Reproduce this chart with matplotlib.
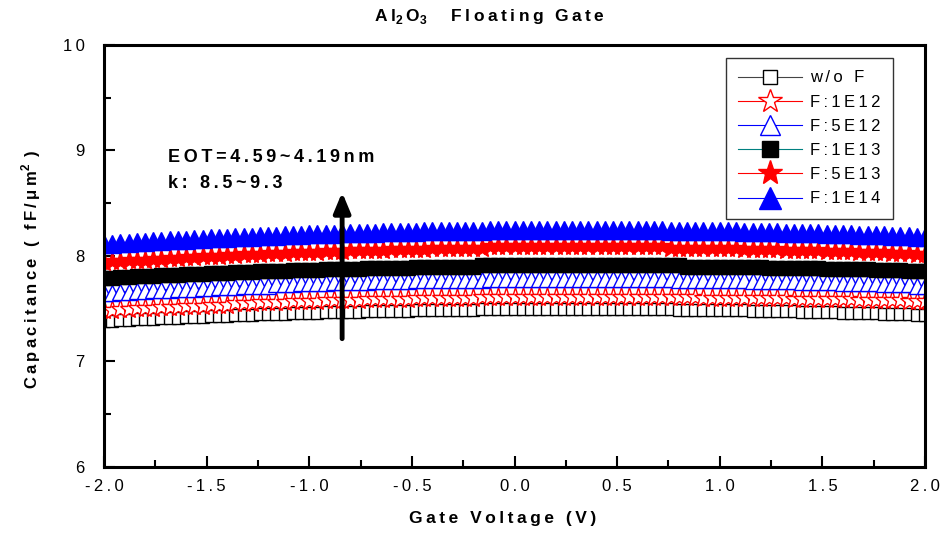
"""C-V curves of the Al2O3 floating gate for several F implant doses."""

import matplotlib

matplotlib.use("Agg")
import matplotlib.pyplot as plt
import numpy as np

plt.rcParams["font.family"] = ["Liberation Sans", "DejaVu Sans"]
plt.rcParams["mathtext.fontset"] = "custom"
plt.rcParams["mathtext.rm"] = "Liberation Sans"
plt.rcParams["mathtext.bf"] = "Liberation Sans:bold"

# gate sweep -2 V .. 2 V, 0.04 V step
gate_v = np.linspace(-2.0, 2.0, 101)

cap_wo_f = [
    7.38, 7.38, 7.39, 7.39, 7.40, 7.40, 7.40, 7.41, 7.41, 7.41,
    7.42, 7.42, 7.42, 7.43, 7.43, 7.43, 7.44, 7.44, 7.44, 7.45,
    7.45, 7.45, 7.45, 7.46, 7.46, 7.46, 7.46, 7.47, 7.47, 7.47,
    7.47, 7.47, 7.48, 7.48, 7.48, 7.48, 7.48, 7.48, 7.49, 7.49,
    7.49, 7.49, 7.49, 7.49, 7.49, 7.49, 7.50, 7.50, 7.50, 7.50,
    7.50, 7.50, 7.50, 7.50, 7.50, 7.50, 7.50, 7.50, 7.50, 7.50,
    7.50, 7.50, 7.50, 7.50, 7.50, 7.50, 7.50, 7.50, 7.50, 7.50,
    7.49, 7.49, 7.49, 7.49, 7.49, 7.49, 7.49, 7.49, 7.49, 7.48,
    7.48, 7.48, 7.48, 7.48, 7.48, 7.47, 7.47, 7.47, 7.47, 7.47,
    7.46, 7.46, 7.46, 7.46, 7.46, 7.45, 7.45, 7.45, 7.45, 7.44,
    7.44,
]
cap_1e12 = [
    7.49, 7.49, 7.50, 7.50, 7.51, 7.51, 7.51, 7.52, 7.52, 7.52,
    7.53, 7.53, 7.53, 7.54, 7.54, 7.54, 7.55, 7.55, 7.55, 7.56,
    7.56, 7.56, 7.56, 7.57, 7.57, 7.57, 7.57, 7.58, 7.58, 7.58,
    7.58, 7.58, 7.59, 7.59, 7.59, 7.59, 7.59, 7.59, 7.60, 7.60,
    7.60, 7.60, 7.60, 7.60, 7.60, 7.60, 7.61, 7.61, 7.61, 7.61,
    7.61, 7.61, 7.61, 7.61, 7.61, 7.61, 7.61, 7.61, 7.61, 7.61,
    7.61, 7.61, 7.61, 7.61, 7.61, 7.61, 7.61, 7.61, 7.61, 7.61,
    7.61, 7.61, 7.61, 7.60, 7.60, 7.60, 7.60, 7.60, 7.60, 7.60,
    7.60, 7.60, 7.60, 7.60, 7.59, 7.59, 7.59, 7.59, 7.59, 7.59,
    7.59, 7.59, 7.58, 7.58, 7.58, 7.58, 7.58, 7.58, 7.57, 7.57,
    7.57,
]
cap_5e12 = [
    7.65, 7.65, 7.66, 7.66, 7.67, 7.67, 7.68, 7.68, 7.68, 7.69,
    7.69, 7.69, 7.70, 7.70, 7.71, 7.71, 7.71, 7.72, 7.72, 7.72,
    7.72, 7.73, 7.73, 7.73, 7.74, 7.74, 7.74, 7.74, 7.75, 7.75,
    7.75, 7.75, 7.75, 7.76, 7.76, 7.76, 7.76, 7.76, 7.77, 7.77,
    7.77, 7.77, 7.77, 7.77, 7.77, 7.77, 7.77, 7.78, 7.78, 7.78,
    7.78, 7.78, 7.78, 7.78, 7.78, 7.78, 7.78, 7.78, 7.78, 7.78,
    7.78, 7.78, 7.78, 7.78, 7.78, 7.78, 7.78, 7.78, 7.78, 7.78,
    7.77, 7.77, 7.77, 7.77, 7.77, 7.77, 7.77, 7.77, 7.77, 7.76,
    7.76, 7.76, 7.76, 7.76, 7.76, 7.75, 7.75, 7.75, 7.75, 7.75,
    7.74, 7.74, 7.74, 7.74, 7.74, 7.73, 7.73, 7.73, 7.73, 7.72,
    7.72,
]
cap_1e13 = [
    7.79, 7.79, 7.80, 7.80, 7.81, 7.81, 7.81, 7.82, 7.82, 7.82,
    7.83, 7.83, 7.83, 7.84, 7.84, 7.84, 7.85, 7.85, 7.85, 7.86,
    7.86, 7.86, 7.86, 7.87, 7.87, 7.87, 7.87, 7.88, 7.88, 7.88,
    7.88, 7.88, 7.89, 7.89, 7.89, 7.89, 7.89, 7.89, 7.90, 7.90,
    7.90, 7.90, 7.90, 7.90, 7.90, 7.90, 7.91, 7.91, 7.91, 7.91,
    7.91, 7.91, 7.91, 7.91, 7.91, 7.91, 7.91, 7.91, 7.91, 7.91,
    7.91, 7.91, 7.91, 7.91, 7.91, 7.91, 7.91, 7.91, 7.91, 7.91,
    7.91, 7.90, 7.90, 7.90, 7.90, 7.90, 7.90, 7.90, 7.90, 7.90,
    7.90, 7.89, 7.89, 7.89, 7.89, 7.89, 7.89, 7.89, 7.88, 7.88,
    7.88, 7.88, 7.88, 7.88, 7.87, 7.87, 7.87, 7.87, 7.86, 7.86,
    7.86,
]
cap_5e13 = [
    7.94, 7.95, 7.95, 7.96, 7.96, 7.96, 7.97, 7.97, 7.98, 7.98,
    7.99, 7.99, 8.00, 8.00, 8.00, 8.01, 8.01, 8.02, 8.02, 8.02,
    8.03, 8.03, 8.03, 8.04, 8.04, 8.04, 8.04, 8.05, 8.05, 8.05,
    8.06, 8.06, 8.06, 8.06, 8.06, 8.07, 8.07, 8.07, 8.07, 8.07,
    8.08, 8.08, 8.08, 8.08, 8.08, 8.08, 8.08, 8.09, 8.09, 8.09,
    8.09, 8.09, 8.09, 8.09, 8.09, 8.09, 8.09, 8.09, 8.09, 8.09,
    8.09, 8.09, 8.09, 8.09, 8.09, 8.09, 8.09, 8.09, 8.09, 8.08,
    8.08, 8.08, 8.08, 8.08, 8.08, 8.08, 8.08, 8.08, 8.07, 8.07,
    8.07, 8.07, 8.07, 8.06, 8.06, 8.06, 8.06, 8.06, 8.05, 8.05,
    8.05, 8.05, 8.04, 8.04, 8.04, 8.04, 8.03, 8.03, 8.03, 8.02,
    8.02,
]
cap_1e14 = [
    8.11, 8.11, 8.12, 8.12, 8.13, 8.13, 8.14, 8.14, 8.15, 8.15,
    8.15, 8.16, 8.16, 8.17, 8.17, 8.17, 8.18, 8.18, 8.18, 8.19,
    8.19, 8.19, 8.20, 8.20, 8.20, 8.21, 8.21, 8.21, 8.21, 8.22,
    8.22, 8.22, 8.22, 8.22, 8.23, 8.23, 8.23, 8.23, 8.23, 8.24,
    8.24, 8.24, 8.24, 8.24, 8.24, 8.24, 8.24, 8.25, 8.25, 8.25,
    8.25, 8.25, 8.25, 8.25, 8.25, 8.25, 8.25, 8.25, 8.25, 8.25,
    8.25, 8.25, 8.25, 8.25, 8.25, 8.25, 8.25, 8.25, 8.25, 8.24,
    8.24, 8.24, 8.24, 8.24, 8.24, 8.24, 8.24, 8.24, 8.23, 8.23,
    8.23, 8.23, 8.23, 8.22, 8.22, 8.22, 8.22, 8.22, 8.21, 8.21,
    8.21, 8.21, 8.20, 8.20, 8.20, 8.20, 8.19, 8.19, 8.19, 8.18,
    8.18,
]

labels = ["w/o F", "F:1E12", "F:5E12", "F:1E13", "F:5E13", "F:1E14"]
series = [cap_wo_f, cap_1e12, cap_5e12, cap_1e13, cap_5e13, cap_1e14]

# (line colour, marker, marker face, marker edge, marker size)
styles = [
    ("#444444", "s", "white", "black", 8.5),
    ("red", "*", "white", "red", 14),
    ("blue", "^", "white", "blue", 12),
    ("#008080", "s", "black", "black", 9.5),
    ("red", "*", "red", "red", 14.5),
    ("blue", "^", "blue", "blue", 12.5),
]

GAP = "\u2009"


def spaced(s):
    # Origin-style tracking: a thin space between every character
    return GAP.join(s)


fig = plt.figure(figsize=(9.43, 5.38), dpi=100)
ax = fig.add_axes([0.1103, 0.132, 0.8707, 0.7844])

for lab, cap, (lc, mk, mfc, mec, ms) in zip(labels, series, styles):
    ax.plot(gate_v, cap, color=lc, lw=0.8, marker=mk, ms=ms,
            mfc=mfc, mec=mec, mew=1.0, label=spaced(lab))

xt = np.arange(-2.0, 2.01, 0.5)
ax.set_xlim(-2.0, 2.0)
ax.set_ylim(6, 10)
ax.set_xticks(xt)
ax.set_xticklabels([spaced(f"{v:.1f}") for v in xt])
ax.set_xticks(np.arange(-2.0, 2.01, 0.25), minor=True)
ax.set_yticks([6, 7, 8, 9, 10])
ax.set_yticklabels([spaced(str(v)) for v in [6, 7, 8, 9, 10]])
ax.set_yticks(np.arange(6, 10.01, 0.5), minor=True)
ax.tick_params(which="both", direction="in", top=False, right=False,
               width=1.5, labelsize=12)
ax.tick_params(which="major", length=8)
ax.tick_params(which="minor", length=5)
ax.tick_params(axis="x", which="major", pad=9)
ax.tick_params(axis="y", which="major", pad=14)
for sp in ax.spines.values():
    sp.set_linewidth(2.2)

ax.set_xlabel(spaced("Gate Voltage (V)"), fontsize=12.5, fontweight="bold")
ax.xaxis.set_label_coords(0.486, -0.105)
ax.set_ylabel(spaced("Capacitance ( fF/μm") + r"$^{\mathbf{2}}$" + spaced(" )"),
              fontsize=12, fontweight="bold")
ax.yaxis.set_label_coords(-0.074, 0.47)
fig.text(489 / 943, 1 - 17 / 538,
         r"A" + GAP + r"l$_{\mathbf{2}}$" + GAP + r"O$_{\mathbf{3}}$" + "     "
         + spaced("Floating Gate"),
         ha="center", va="center", fontsize=12.5, fontweight="bold")

ax.annotate("", xy=(-0.84, 8.63), xytext=(-0.84, 7.19),
            arrowprops=dict(arrowstyle="-|>,head_length=1.2,head_width=0.5",
                            color="black", lw=3.5))
ax.text(-1.69, 8.93, spaced("EOT=4.59~4.19nm"), fontsize=13,
        fontweight="bold", va="center", ha="left")
ax.text(-1.69, 8.69, spaced("k: 8.5~9.3"), fontsize=13,
        fontweight="bold", va="center", ha="left")

leg = ax.legend(loc="upper right", bbox_to_anchor=(893 / 943, 1 - 58 / 538),
                bbox_transform=fig.transFigure, borderaxespad=0, fontsize=12,
                fancybox=False, framealpha=1, edgecolor="#333333",
                handlelength=3.8, handletextpad=0.5, labelspacing=0.55,
                markerscale=1.25, borderpad=0.75)
leg.get_frame().set_linewidth(1.0)

fig.savefig("out.png", dpi=100)
